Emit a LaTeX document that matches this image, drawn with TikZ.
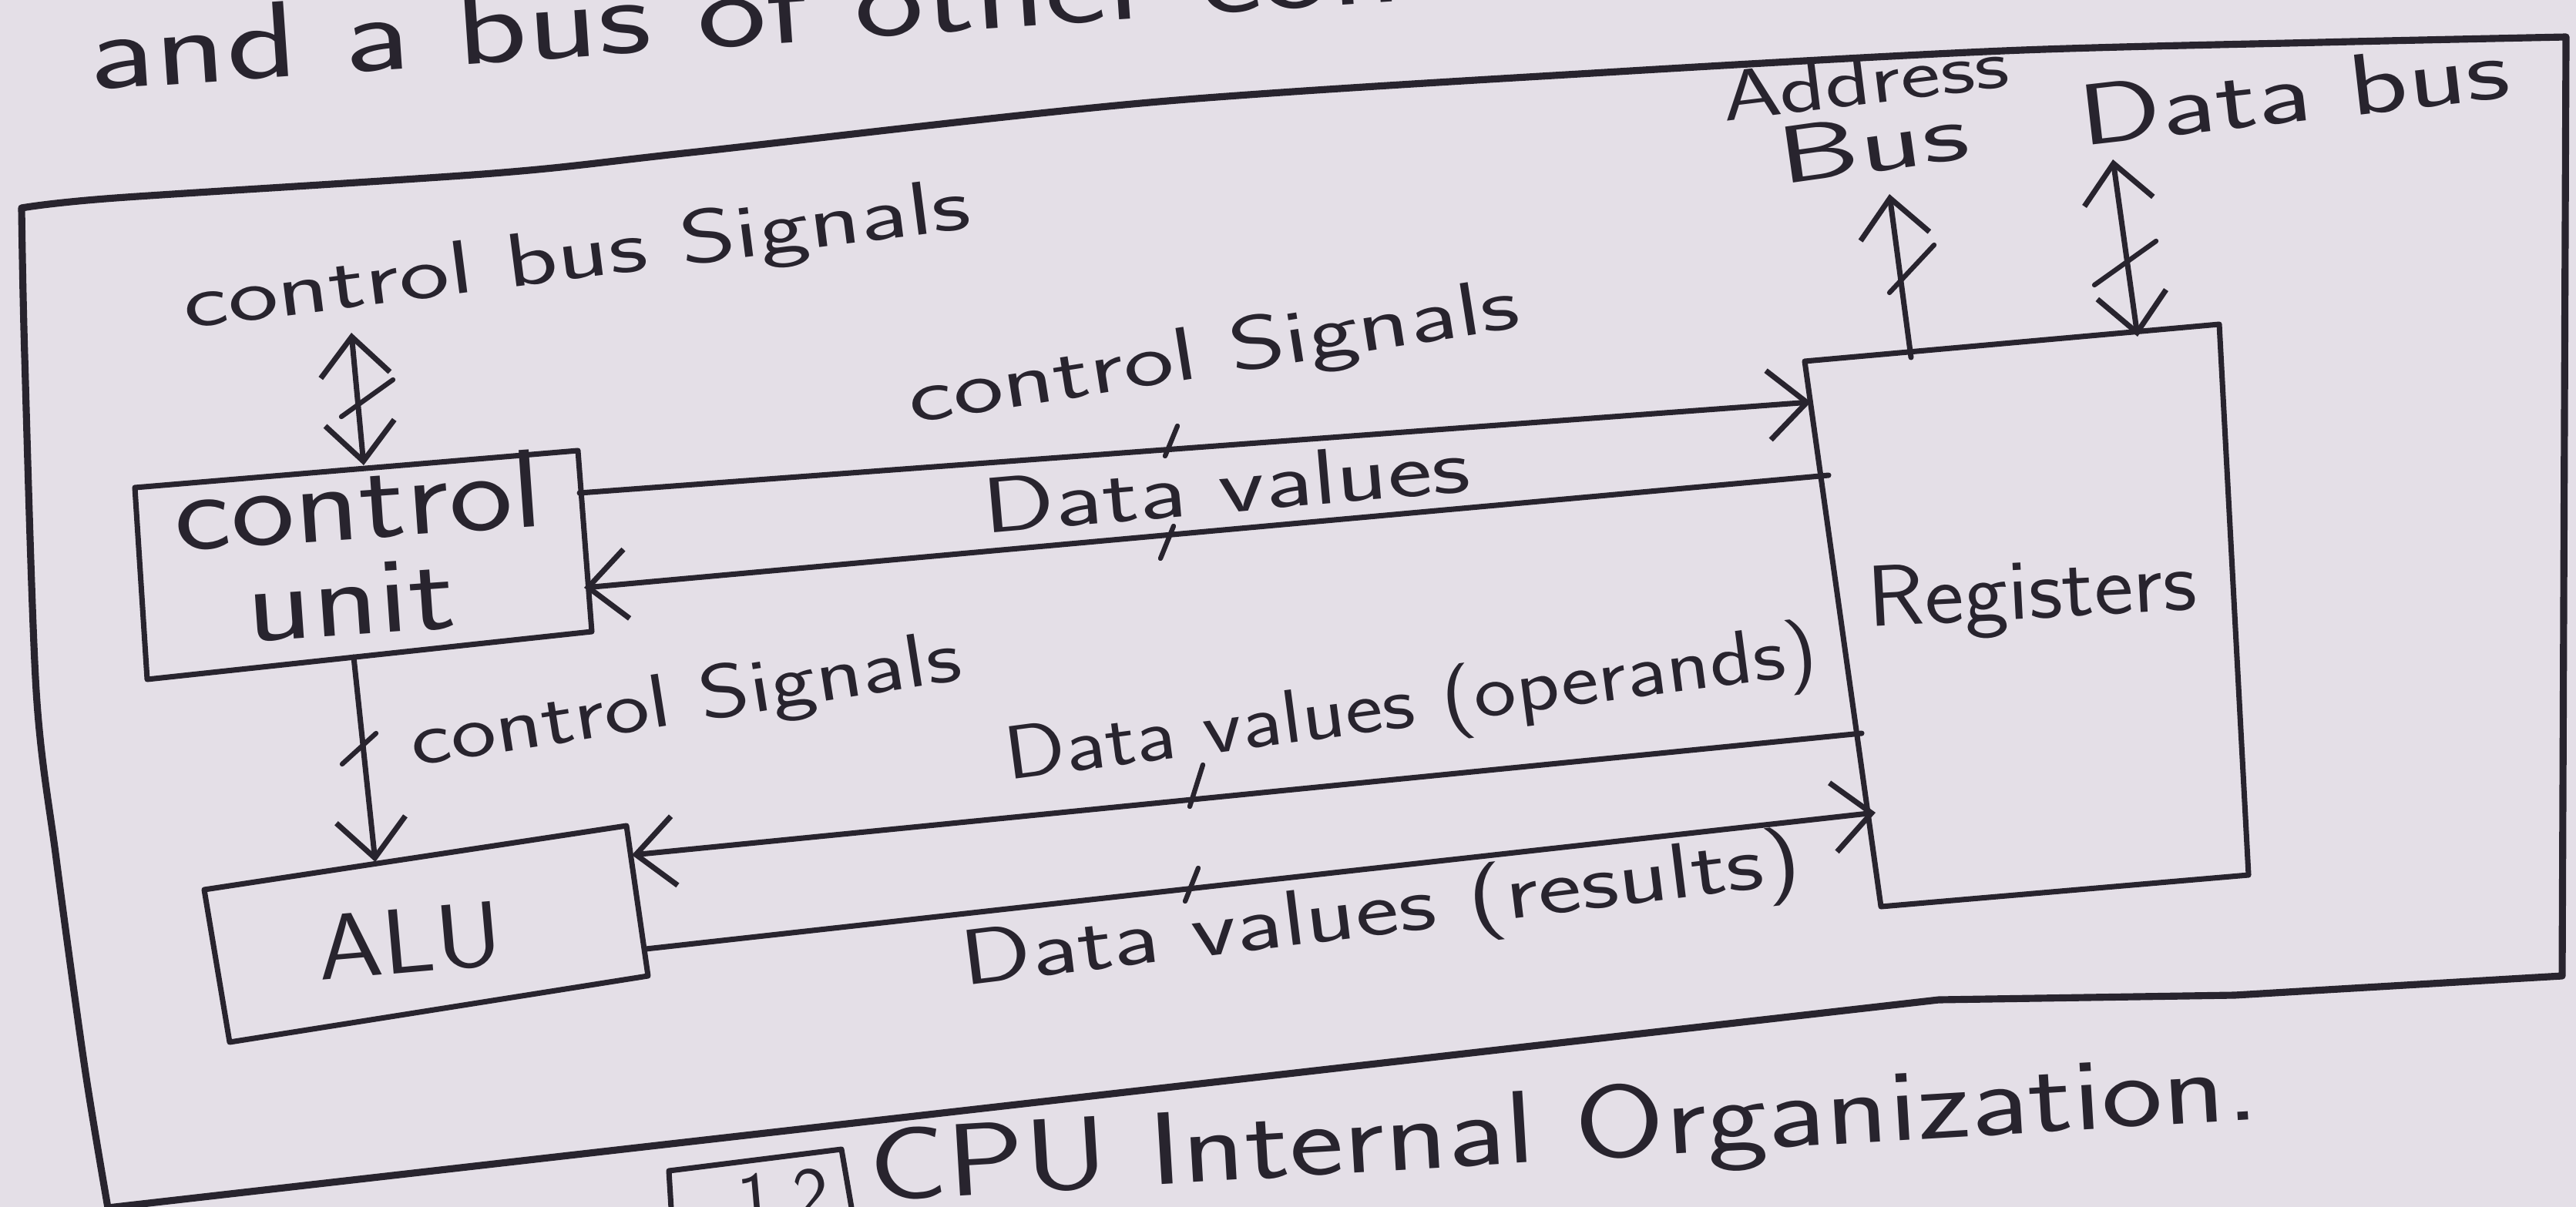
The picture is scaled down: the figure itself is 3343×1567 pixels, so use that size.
\documentclass[tikz,border=0pt]{standalone}
\usepackage{fontspec}
\usetikzlibrary{arrows.meta}
\definecolor{paper}{RGB}{228,223,231}
\definecolor{ink}{RGB}{40,36,46}
% wide hand-lettered look: stretch a text horizontally only
\newcommand{\stretchx}[2]{\scalebox{#1}[1]{#2}}
\tikzset{
  hb/.tip={Straight Barb[length=5mm,width=9mm,line width=2pt]},
  hand/.style={draw=ink, line width=2pt, line cap=round, line join=round},
  frameline/.style={hand, line width=2.6pt},
  wire/.style={hand, -{hb}},
  biwire/.style={hand, {hb}-{hb}},
  tick/.style={hand, line width=1.8pt},
  txt/.style={text=ink, inner sep=0pt, anchor=base west},
  fs/.style={font=\sffamily\fontsize{#1}{#1}\selectfont},
}
\begin{document}
\begin{tikzpicture}[x=0.01cm, y=-0.01cm]
\fill[paper] (0,0) rectangle (3343,1567);
\useasboundingbox (0,0) rectangle (3343,1567);

% running text above the figure
\node[txt, fs=40, rotate=3.9] (prose) at (117,117) {\stretchx{1.36}{and a bus of other communication}};

% outer CPU frame
\draw[frameline]
  plot[smooth, tension=0.5] coordinates {(140,1568) (110,1386) (73,1115) (47,897) (32,462) (28,270)}
  -- plot[smooth, tension=0.5] coordinates {(28,270) (150,257) (640,225) (896,198) (1492,133) (2100,93) (2600,66) (3011,55) (3330,48)}
  -- (3325,1267) -- (2900,1292) -- (2516,1298) -- cycle;

% control unit
\coordinate (cuTL) at (175,633); \coordinate (cuTR) at (750,585);
\coordinate (cuBR) at (768,820); \coordinate (cuBL) at (191,882);
\draw[hand] (cuTL) -- (cuTR) -- (cuBR) -- (cuBL) -- cycle;
\node[txt, fs=41, rotate=4] (cu1) at (228,716) {\stretchx{1.22}{control}};
\node[txt, fs=40, rotate=4] (cu2) at (322,834) {\stretchx{1.26}{unit}};

% ALU
\coordinate (aluTL) at (265,1155); \coordinate (aluTR) at (813,1072);
\coordinate (aluBR) at (841,1267); \coordinate (aluBL) at (298,1353);
\draw[hand] (aluTL) -- (aluTR) -- (aluBR) -- (aluBL) -- cycle;
\node[txt, fs=34, rotate=5] (alu) at (415,1273) {\stretchx{1.13}{ALU}};

% registers
\coordinate (regTL) at (2342,469); \coordinate (regTR) at (2880,421);
\coordinate (regBR) at (2918,1136); \coordinate (regBL) at (2441,1177);
\draw[hand] (regTL) -- (regTR) -- (regBR) -- (regBL) -- cycle;
\node[txt, fs=32, rotate=3] (reg) at (2425,814) {\stretchx{1.08}{Registers}};

% connector end points on the box edges
\coordinate (cbTop) at (456,432);  \coordinate (cbBot) at (472,604);
\coordinate (cuS) at (459,853);    \coordinate (aluN) at (487,1119);
\coordinate (cuE1) at (752,640);   \coordinate (regW1) at (2350,522);
\coordinate (regW2) at (2373,617); \coordinate (cuE2) at (758,763);
\coordinate (regW3) at (2416,952); \coordinate (aluE1) at (820,1110);
\coordinate (aluE2) at (838,1232); \coordinate (regW4) at (2434,1055);
\coordinate (regN1) at (2480,464); \coordinate (abus) at (2452,252);
\coordinate (regN2) at (2774,437); \coordinate (dbus) at (2742,207);

% connectors
\draw[biwire] (cbTop) -- (cbBot);
\draw[tick] (510,493) -- (443,541);
\node[txt, fs=28, rotate=7.3] (cbsig) at (241,427) {\stretchx{1.41}{control bus Signals}};

\draw[wire] (cuS) -- (aluN);
\draw[tick] (488,952) -- (444,992);
\node[txt, fs=28, rotate=9] (cs2) at (537,995) {\stretchx{1.27}{control Signals}};

\draw[wire] (cuE1) -- (regW1);
\draw[tick] (1528,553) -- (1512,592);
\node[txt, fs=28, rotate=9] (cs1) at (1183,550) {\stretchx{1.41}{control Signals}};

\draw[wire] (regW2) -- (cuE2);
\draw[tick] (1523,683) -- (1506,725);
\node[txt, fs=29, rotate=5] (dv1) at (1278,693) {\stretchx{1.35}{Data values}};

\draw[wire] (regW3) -- (aluE1);
\draw[tick] (1561,993) -- (1544,1047);
\node[txt, fs=28, rotate=7.5] (dv2) at (1308,1013) {\stretchx{1.18}{Data values (operands)}};

\draw[wire] (aluE2) -- (regW4);
\draw[tick] (1555,1127) -- (1538,1170);
\node[txt, fs=29, rotate=7] (dv3) at (1251,1280) {\stretchx{1.32}{Data values (results)}};

\draw[wire] (regN1) -- (abus);
\draw[tick] (2510,318) -- (2452,380);
\node[txt, fs=26, rotate=7] (addr) at (2238,158) {\stretchx{1.35}{Address}};
\node[txt, fs=30, rotate=8] (addrb) at (2312,240) {\stretchx{1.6}{Bus}};

\draw[biwire] (regN2) -- (dbus);
\draw[tick] (2798,313) -- (2718,370);
\node[txt, fs=32, rotate=6.5] (datab) at (2702,190) {\stretchx{1.4}{Data bus}};

% figure caption
\draw[hand] (872,1585) -- (868,1520) -- (1092,1492) -- (1108,1585);
\node[txt, fs=28, rotate=5] (fignum) at (960,1592) {1.2};
\node[txt, fs=38, rotate=3.4] (caption) at (1130,1560) {\stretchx{1.26}{CPU Internal Organization.}};
\end{tikzpicture}
\end{document}
